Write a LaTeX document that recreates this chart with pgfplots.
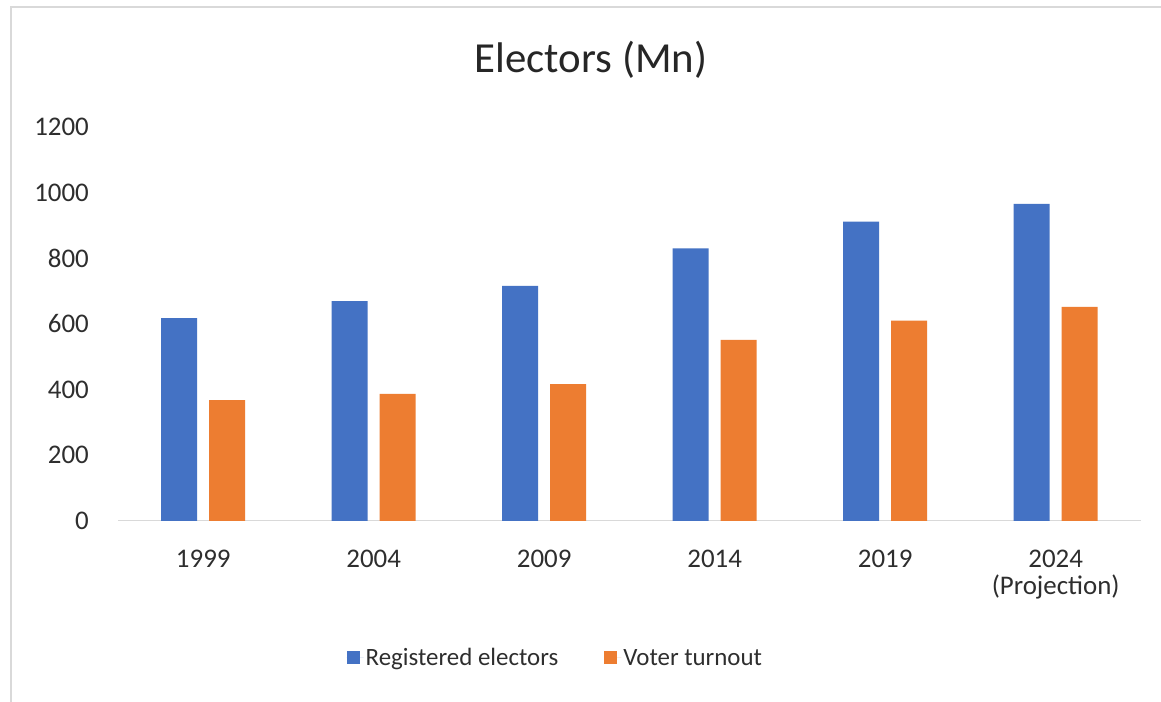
\documentclass[border=0pt]{standalone}
\usepackage{pgfplots}
\pgfplotsset{compat=1.18}
\usepackage{fontspec}
\setmainfont{Carlito}
\definecolor{eblue}{HTML}{4472C4}
\definecolor{eorange}{HTML}{ED7D31}
\definecolor{frm}{HTML}{D9D9D9}
\begin{document}
\begin{tikzpicture}
\useasboundingbox (0bp,0bp) rectangle (1161bp,702bp);
\fill[white] (0bp,0bp) rectangle (1161bp,702bp);
\draw[frm, line width=1.5bp] (11bp,0bp) -- (11bp,695bp) -- (1161bp,695bp);
\node[anchor=base, font=\fontsize{43}{50}\selectfont, text=black!85, inner sep=0pt] at (591bp,629bp) {Electors (Mn)};
\begin{axis}[
  at={(118bp,181bp)}, anchor=south west,
  scale only axis, width=1023bp, height=394bp,
  xmin=-0.5, xmax=5.5, ymin=0, ymax=1200,
  ytick={0,200,...,1200},
  xtick={0,...,5},
  xticklabels={1999,2004,2009,2014,2019,{2024\\(Projection)}},
  ybar, bar width=36bp,
  axis x line*=bottom, axis y line*=left,
  x axis line style={frm, line width=1bp},
  y axis line style={draw=none},
  major tick length=0pt,
  /pgf/number format/assume math mode=true,
  /pgf/number format/1000 sep={},
  tick label style={font=\fontsize{27}{27}\selectfont, text=black!82},
  yticklabel style={anchor=east, inner sep=0pt, xshift=-29bp},
  xticklabel style={anchor=north, inner sep=0pt, yshift=-29bp, align=center},
  legend style={at={(axis description cs:0.4276,-0.3477)}, anchor=center, draw=none, fill=none,
    legend columns=2, font=\fontsize{25}{30}\selectfont, text=black!82,
    /tikz/every even column/.append style={column sep=44bp},
    nodes={inner sep=2bp}},
  legend image code/.code={\path (0bp,0bp) -- (17bp,0bp); \fill[#1] (0bp,-6.5bp) rectangle (13bp,6.5bp);},
]
\addplot[fill=eblue, draw=none, bar shift=-24bp] coordinates {(0,618) (1,670) (2,716) (3,830) (4,912) (5,966)};
\addplot[fill=eorange, draw=none, bar shift=24bp] coordinates {(0,368) (1,387) (2,417) (3,552) (4,610) (5,652)};
\legend{Registered electors, Voter turnout}
\end{axis}
\end{tikzpicture}
\end{document}
